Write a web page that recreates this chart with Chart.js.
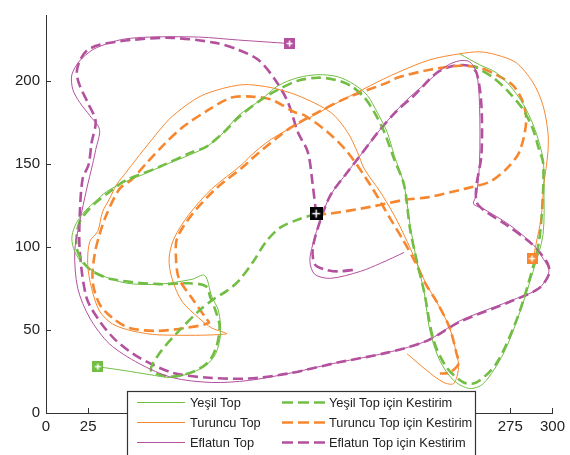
<!DOCTYPE html>
<html>
<head>
<meta charset="utf-8">
<script src="https://cdn.jsdelivr.net/npm/chart.js@4.4.1/dist/chart.umd.min.js"></script>
<style>
  html, body { margin: 0; padding: 0; background: #fff; }
  #wrap { width: 570px; height: 455px; }
</style>
</head>
<body>
<div id="wrap"><canvas id="c" width="570" height="455"></canvas></div>
<script>
// Measured tracks (x, y) and filter estimates for the three balls
const yesilTop = [[30.7,27.9],[46.4,25.6],[61.1,23.2],[74.6,21.4],[86.4,24.4],[94.6,28.6],[100.5,35.7],[103.4,47.7],[102.2,61.5],[98.1,70.4],[94.0,83.0],[86.4,80.6],[67.0,77.7],[47.6,78.3],[31.7,83.6],[21.7,90.2],[17.0,97.4],[15.3,105.2],[17.0,112.4],[21.7,120.2],[28.8,127.3],[35.8,133.4],[45.2,138.7],[58.2,144.1],[69.9,149.4],[81.7,154.2],[94.6,160.2],[105.2,169.2],[114.0,179.4],[127.5,189.0],[137.5,197.4],[149.2,202.2],[161.0,204.0],[172.7,202.8],[182.7,198.0],[190.4,191.4],[196.2,181.3],[202.1,169.3],[206.2,155.5],[212.1,137.5],[215.6,113.6],[219.7,91.4],[223.9,73.4],[227.4,49.5],[233.3,31.5],[241.5,19.6],[250.9,14.8],[259.1,17.8],[270.9,35.7],[280.3,59.7],[288.5,85.4],[294.4,107.6],[294.9,137.5],[294.4,153.1],[290.2,169.3],[284.4,183.1],[276.7,195.0],[266.7,205.2],[256.8,210.0],[245.0,216.6]];

const yesilKestirim = [[160.0,120.2],[149.2,116.6],[138.7,111.8],[130.4,103.4],[122.8,91.4],[114.0,79.5],[106.9,73.5],[99.3,68.7],[90.5,61.5],[78.7,49.5],[67.0,35.7],[62.3,25.6],[74.6,22.0],[87.5,25.0],[96.4,31.0],[101.1,40.5],[102.8,52.5],[100.5,61.5],[97.5,69.3],[94.6,76.5],[84.6,78.2],[67.0,77.7],[39.4,80.6],[27.6,85.4],[21.7,91.4],[18.2,99.2],[18.2,107.6],[20.0,115.4],[24.1,121.3],[30.0,127.3],[37.6,133.3],[47.6,140.5],[67.0,148.3],[86.4,157.3],[94.6,160.3],[105.2,169.2],[114.0,178.2],[127.5,189.0],[137.5,195.0],[149.2,200.4],[161.0,202.2],[171.0,201.0],[180.4,197.4],[188.6,190.2],[194.5,181.3],[200.4,169.3],[206.2,153.1],[212.1,137.5],[215.6,111.2],[219.7,91.4],[223.9,73.4],[229.7,43.5],[237.4,27.4],[247.4,18.4],[255.0,18.4],[266.7,29.8],[278.5,55.5],[286.1,79.5],[292.0,103.4],[294.4,133.3],[294.4,151.2],[292.0,159.0],[288.5,171.0],[282.6,183.0],[274.4,193.2],[265.0,202.2],[253.2,209.4]];

const turuncuTop = [[288.5,92.6],[290.2,101.6],[293.2,117.2],[294.9,137.5],[297.3,157.3],[297.3,169.3],[294.4,185.4],[288.5,199.2],[278.5,211.2],[266.7,216.0],[256.8,217.8],[245.0,216.6],[227.4,213.0],[208.0,205.2],[192.1,197.4],[172.7,187.2],[153.3,176.5],[133.4,165.1],[121.6,155.5],[115.7,149.5],[98.1,135.1],[84.6,119.6],[75.8,105.2],[72.9,93.2],[74.6,81.2],[80.5,67.4],[90.5,57.3],[98.1,51.3],[106.9,47.7],[67.0,47.1],[51.1,49.5],[39.4,53.7],[31.7,61.5],[27.0,75.2],[24.7,89.6],[25.9,103.4],[30.6,109.4],[33.5,121.3],[37.6,129.1],[41.7,137.5],[47.6,145.3],[53.5,153.1],[62.9,165.1],[72.9,177.1],[82.8,185.4],[92.2,191.4],[102.2,195.0],[112.2,197.4],[119.9,198.0],[133.4,196.2],[149.2,191.4],[168.6,181.3],[178.6,169.3],[184.5,157.3],[188.6,147.1],[198.0,133.3],[205.1,121.3],[210.3,111.2],[217.4,95.6],[224.4,79.5],[232.7,64.5],[239.1,51.3],[243.2,35.7],[244.4,27.4],[241.5,17.8],[235.6,18.4],[225.6,25.6],[213.9,35.7]];

const turuncuKestirim = [[160.0,120.2],[166.9,120.1],[192.1,124.3],[212.1,128.5],[227.4,130.3],[247.4,135.1],[262.6,139.3],[272.6,147.1],[280.3,157.3],[284.4,175.2],[282.6,187.2],[276.7,197.4],[266.7,204.0],[256.8,208.2],[245.0,209.4],[227.4,207.0],[208.0,202.2],[202.1,199.2],[178.6,190.2],[161.0,181.3],[143.4,171.0],[121.6,153.1],[118.1,149.5],[100.5,135.1],[86.4,119.6],[77.6,105.2],[77.0,93.2],[78.7,81.2],[86.4,69.3],[94.6,57.3],[96.4,54.3],[82.8,51.3],[65.2,49.5],[49.4,51.3],[39.4,57.3],[31.7,65.7],[27.6,79.5],[28.8,95.6],[31.7,107.6],[35.8,119.6],[43.5,135.1],[51.1,141.1],[60.0,151.2],[70.0,162.0],[80.5,172.0],[96.4,182.9],[109.9,190.2],[121.6,190.8],[133.4,189.0],[147.5,181.3],[153.3,179.4],[166.9,169.3],[178.6,157.3],[192.1,137.5],[203.9,117.2],[211.0,105.2],[218.5,91.4],[225.0,77.6],[231.5,67.0],[239.1,51.3],[243.2,35.7],[244.4,29.8],[239.1,24.4],[233.3,23.8]];

const eflatunTop = [[144.3,222.8],[114.0,224.9],[90.5,226.7],[61.1,226.7],[46.4,225.5],[37.6,223.2],[27.6,219.0],[20.0,212.4],[15.3,204.0],[15.9,195.0],[20.0,187.2],[25.9,179.4],[31.7,171.0],[29.5,159.0],[27.6,150.0],[24.1,135.1],[20.0,115.4],[17.0,97.4],[18.8,75.2],[25.9,57.3],[37.6,41.7],[55.2,29.8],[74.6,21.4],[98.1,18.4],[119.9,19.6],[143.4,23.8],[172.7,30.4],[202.1,36.4],[225.6,43.5],[245.0,55.5],[274.4,67.4],[292.0,75.2],[297.9,85.4],[294.4,93.2],[288.5,101.6],[274.4,113.5],[259.1,123.1],[253.2,126.1],[255.0,131.5],[256.8,151.2],[256.8,185.4],[255.0,205.2],[250.9,211.8],[245.0,212.4],[237.4,209.4],[227.4,201.0],[212.1,187.2],[198.0,171.0],[184.5,153.1],[178.6,145.3],[168.6,131.5],[162.7,117.1],[158.0,101.6],[156.3,91.4],[159.2,83.6],[168.6,81.2],[186.2,85.4],[198.0,90.2],[212.1,96.8]];

const eflatunKestirim = [[160.0,120.2],[158.0,137.5],[155.1,157.3],[149.2,169.3],[143.4,187.2],[135.7,201.0],[125.7,213.0],[114.0,219.0],[100.5,223.2],[74.6,226.2],[51.1,225.0],[31.7,222.0],[24.1,218.4],[20.0,212.4],[18.2,205.2],[20.0,197.4],[24.7,187.2],[29.4,176.0],[27.0,163.0],[25.3,150.0],[21.7,141.2],[20.0,119.6],[20.0,97.4],[24.1,69.3],[31.7,55.5],[41.7,43.5],[55.2,33.4],[74.6,24.4],[94.6,21.4],[119.9,20.8],[143.4,23.8],[172.7,30.4],[202.1,36.4],[225.6,43.5],[245.0,54.9],[274.4,66.9],[292.0,75.2],[297.9,83.6],[297.4,89.6],[292.0,97.4],[286.1,103.4],[272.6,113.5],[259.1,122.5],[255.0,127.3],[255.0,137.5],[257.9,155.5],[257.9,185.4],[255.0,205.2],[250.3,209.4],[241.5,209.4],[231.5,205.2],[218.0,191.4],[208.0,182.4],[198.0,171.0],[184.5,153.1],[178.6,145.3],[168.6,131.5],[162.2,115.3],[158.0,99.2],[159.2,89.6],[165.1,86.6],[172.7,85.4],[184.5,86.6]];

// Start markers of each track and the common starting guess of the estimates
const yesilBaslangic = [30.7, 27.9];
const turuncuBaslangic = [287.9, 93.1];
const eflatunBaslangic = [144.3, 222.8];
const ortakBaslangic = [160.0, 120.2];

// Axis ticks; x labels under the legend box are left blank
const xTicks = [0, 25, 50, 75, 100, 125, 150, 175, 200, 225, 250, 275, 300];
const xTickLabels = ['0', '25', '', '', '', '', '', '', '', '', '', '275', '300'];
const yTicks = [0, 50, 100, 150, 200];

const seriesLabels = ['Yeşil Top', 'Yeşil Top için Kestirim', 'Turuncu Top', 'Turuncu Top için Kestirim', 'Eflatun Top', 'Eflatun Top için Kestirim'];

const GREEN = '#72BE44';
const ORANGE = '#F7872E';
const MAGENTA = '#B3519F';
const DASH = [10, 5];
const FONT = '"Liberation Sans", Arial, sans-serif';

// Legend box placement (pixels)
const BOX = { left: 127, top: 391, width: 348, height: 70 };

const pts = arr => arr.map(p => ({ x: p[0], y: p[1] }));

function squareMarker(color, size) {
  const c = document.createElement('canvas');
  c.width = size; c.height = size;
  const g = c.getContext('2d');
  g.fillStyle = color;
  g.fillRect(0, 0, size, size);
  g.strokeStyle = '#ffffff';
  g.lineWidth = 1.5;
  const m = size / 2;
  g.beginPath();
  g.moveTo(2.5, m); g.lineTo(size - 2.5, m);
  g.moveTo(m, 2.5); g.lineTo(m, size - 2.5);
  g.stroke();
  return c;
}

function lineSet(label, arr, color, dashed) {
  return {
    label: label,
    data: pts(arr),
    showLine: true,
    borderColor: color,
    borderWidth: dashed ? 2.6 : 1,
    borderDash: dashed ? DASH : [],
    pointRadius: 0,
    fill: false,
    tension: 0.3,
    order: dashed ? 2 : 1
  };
}

function markerSet(p, color, size) {
  return {
    label: '',
    data: [{ x: p[0], y: p[1] }],
    showLine: false,
    pointStyle: squareMarker(color, size),
    pointRadius: size / 2,
    order: 0
  };
}

const legendItems = [
  { label: seriesLabels[0], color: GREEN, dashed: false },
  { label: seriesLabels[1], color: GREEN, dashed: true },
  { label: seriesLabels[2], color: ORANGE, dashed: false },
  { label: seriesLabels[3], color: ORANGE, dashed: true },
  { label: seriesLabels[4], color: MAGENTA, dashed: false },
  { label: seriesLabels[5], color: MAGENTA, dashed: true }
];

// Inward tick marks on the left and bottom axes
const inwardTicks = {
  id: 'inwardTicks',
  afterDatasetsDraw(chart) {
    const { ctx, scales: { x, y } } = chart;
    ctx.save();
    ctx.strokeStyle = '#333';
    ctx.lineWidth = 1;
    ctx.beginPath();
    xTicks.forEach(v => {
      const px = Math.round(x.getPixelForValue(v)) + 0.5;
      ctx.moveTo(px, y.bottom); ctx.lineTo(px, y.bottom - 5);
    });
    yTicks.forEach(v => {
      const py = Math.round(y.getPixelForValue(v)) + 0.5;
      ctx.moveTo(x.left, py); ctx.lineTo(x.left + 5, py);
    });
    ctx.stroke();
    ctx.restore();
  }
};

// Boxed two-column legend sitting over the lower part of the plot
const boxLegend = {
  id: 'boxLegend',
  afterDraw(chart) {
    const ctx = chart.ctx;
    ctx.save();
    ctx.fillStyle = '#fff';
    ctx.fillRect(BOX.left, BOX.top, BOX.width, BOX.height);
    ctx.strokeStyle = '#333';
    ctx.lineWidth = 1.2;
    ctx.strokeRect(BOX.left + 0.5, BOX.top + 0.5, BOX.width, BOX.height);
    const cols = [{ x0: 137, x1: 185, tx: 190 }, { x0: 282, x1: 325, tx: 329 }];
    const rows = [402, 422, 442];
    ctx.font = '12.8px ' + FONT;
    ctx.textBaseline = 'middle';
    ctx.textAlign = 'left';
    legendItems.forEach((it, i) => {
      const col = cols[i % 2];
      const ry = rows[Math.floor(i / 2)];
      ctx.beginPath();
      ctx.strokeStyle = it.color;
      ctx.lineWidth = it.dashed ? 2.6 : 1;
      ctx.setLineDash(it.dashed ? [11, 5] : []);
      ctx.moveTo(col.x0, ry + 0.5);
      ctx.lineTo(col.x1, ry + 0.5);
      ctx.stroke();
      ctx.setLineDash([]);
      ctx.fillStyle = '#222';
      ctx.fillText(it.label, col.tx, ry + 1);
    });
    ctx.restore();
  }
};

new Chart(document.getElementById('c'), {
  type: 'scatter',
  data: {
    datasets: [
      markerSet(ortakBaslangic, '#000000', 13),
      markerSet(yesilBaslangic, GREEN, 11),
      markerSet(turuncuBaslangic, ORANGE, 11),
      markerSet(eflatunBaslangic, MAGENTA, 11),
      lineSet(seriesLabels[0], yesilTop, GREEN, false),
      lineSet(seriesLabels[1], yesilKestirim, GREEN, true),
      lineSet(seriesLabels[2], turuncuTop, ORANGE, false),
      lineSet(seriesLabels[3], turuncuKestirim, ORANGE, true),
      lineSet(seriesLabels[4], eflatunTop, MAGENTA, false),
      lineSet(seriesLabels[5], eflatunKestirim, MAGENTA, true)
    ]
  },
  options: {
    responsive: false,
    animation: false,
    events: [],
    layout: { padding: { top: 12, right: 14, left: 0, bottom: 0 } },
    plugins: { legend: { display: false }, tooltip: { enabled: false } },
    scales: {
      x: {
        type: 'linear', min: 0, max: 300,
        afterBuildTicks: s => { s.ticks = xTicks.map(v => ({ value: v })); },
        ticks: {
          color: '#222', font: { family: FONT, size: 15 }, padding: 5, maxRotation: 0, autoSkip: false,
          callback: (v, i) => xTickLabels[i]
        },
        grid: { display: false, drawTicks: false },
        border: { display: true, color: '#333', width: 1 },
        afterFit: s => { s.height = 42; }
      },
      y: {
        type: 'linear', min: 0, max: 240,
        afterBuildTicks: s => { s.ticks = yTicks.map(v => ({ value: v })); },
        ticks: { color: '#222', font: { family: FONT, size: 15 }, padding: 6 },
        grid: { display: false, drawTicks: false },
        border: { display: true, color: '#333', width: 1 },
        afterFit: s => { s.width = 46; }
      }
    }
  },
  plugins: [inwardTicks, boxLegend]
});
</script>
</body>
</html>
